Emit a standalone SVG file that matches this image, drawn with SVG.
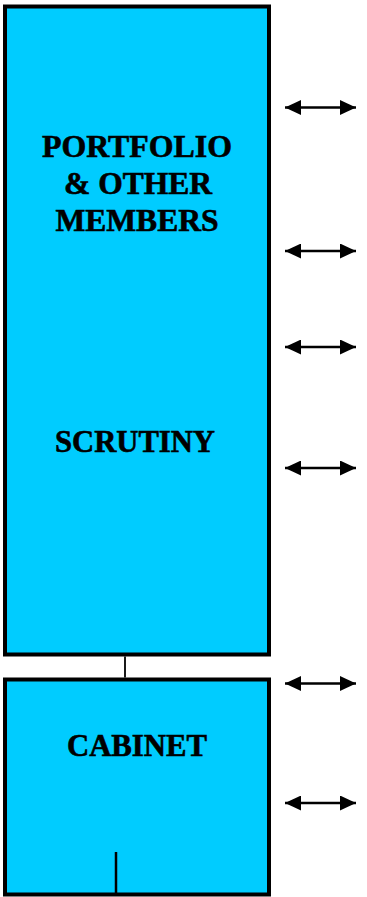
<svg xmlns="http://www.w3.org/2000/svg" width="367" height="897" viewBox="0 0 367 897">
  <style>
    .box { fill: #00CCFF; stroke: #000; stroke-width: 4; }
    .lbl { font-family: "Liberation Serif", "Times New Roman", serif; font-weight: bold; font-size: 31px; fill: #000; stroke: #000; stroke-width: 0.6; text-anchor: middle; }
    .link { stroke: #000; fill: none; }
    .dbl { stroke: #000; stroke-width: 2.4; fill: none; marker-start: url(#head); marker-end: url(#head); }
  </style>
  <defs>
    <marker id="head" viewBox="0 0 16 15" refX="16" refY="7.5" markerWidth="16" markerHeight="15" markerUnits="userSpaceOnUse" orient="auto-start-reverse">
      <path d="M0,0 L16,7.5 L0,15 z" fill="#000"/>
    </marker>
  </defs>

  <g id="portfolio-scrutiny">
    <rect class="box" x="5" y="6.5" width="264" height="648"/>
    <text class="lbl" x="137" y="157" textLength="190" lengthAdjust="spacingAndGlyphs">PORTFOLIO</text>
    <text class="lbl" x="138" y="194" textLength="148" lengthAdjust="spacingAndGlyphs">&amp; OTHER</text>
    <text class="lbl" x="137" y="230.5" textLength="163" lengthAdjust="spacingAndGlyphs">MEMBERS</text>
    <text class="lbl" x="135" y="452" textLength="160" lengthAdjust="spacingAndGlyphs">SCRUTINY</text>
  </g>

  <g id="cabinet">
    <rect class="box" x="5" y="679.5" width="264" height="215"/>
    <text class="lbl" x="137" y="756" textLength="140" lengthAdjust="spacingAndGlyphs">CABINET</text>
  </g>

  <g id="connectors">
    <line class="link" x1="125" y1="656.5" x2="125" y2="677.5" stroke-width="1.8"/>
    <line class="link" x1="116" y1="852" x2="116" y2="893" stroke-width="2.5"/>
    <line class="dbl" x1="285" y1="107.5" x2="356" y2="107.5"/>
    <line class="dbl" x1="285" y1="251" x2="356" y2="251"/>
    <line class="dbl" x1="285" y1="347" x2="356" y2="347"/>
    <line class="dbl" x1="285" y1="468" x2="356" y2="468"/>
    <line class="dbl" x1="285" y1="683.5" x2="356" y2="683.5"/>
    <line class="dbl" x1="285" y1="803" x2="356" y2="803"/>
  </g>
</svg>
